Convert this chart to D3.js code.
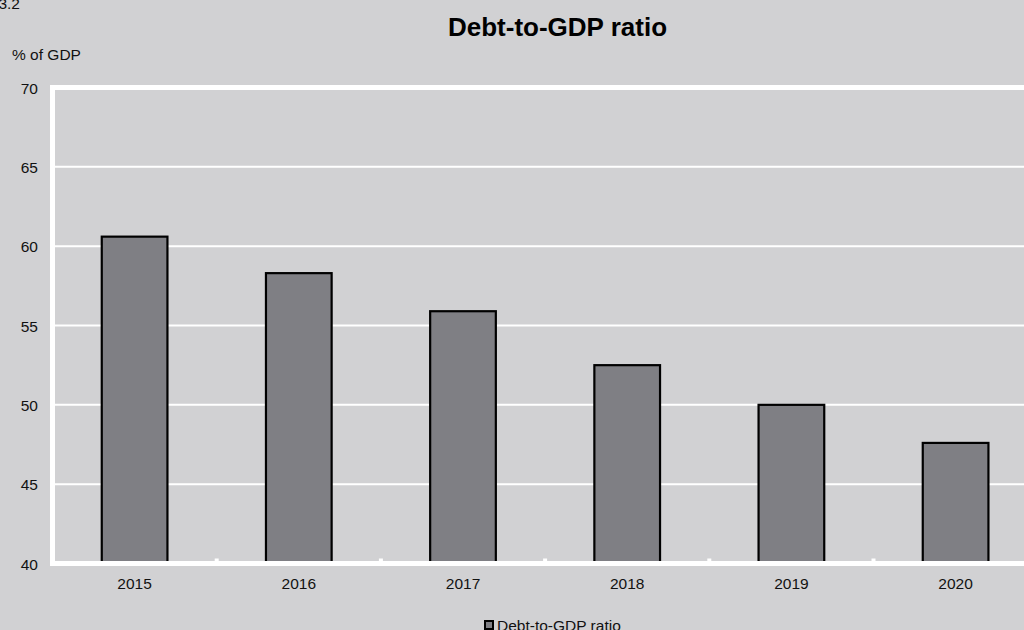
<!DOCTYPE html>
<html>
<head>
<meta charset="utf-8">
<script src="https://cdn.jsdelivr.net/npm/d3@7"></script>
<style>
  html, body { margin: 0; padding: 0; background: #d1d1d3; overflow: hidden; }
  svg { display: block; font-family: "Liberation Sans", Arial, sans-serif; }
</style>
</head>
<body>
<svg id="chart" width="1024" height="630"></svg>
<script>
// Debt-to-GDP ratio, % of GDP
const years = ["2015", "2016", "2017", "2018", "2019", "2020"];
const debtRatio = [60.6, 58.3, 55.9, 52.5, 50.0, 47.6];
const yTicks = [40, 45, 50, 55, 60, 65, 70];
const seriesName = "Debt-to-GDP ratio";

const svg = d3.select("#chart");
const bg = "#d1d1d3";
const barFill = "#7f7f84";

svg.append("rect").attr("width", 1024).attr("height", 630).attr("fill", bg);

// plot frame (right edge runs past the page)
const plotLeft = 52.5, plotTop = 87.5, plotBottom = 563.5;
const step = 164.2;
const plotRight = plotLeft + step * years.length;

const x = d3.scaleBand()
  .domain(years)
  .range([plotLeft, plotRight])
  .paddingInner(0.6)
  .paddingOuter(0.3);

const y = d3.scaleLinear().domain([40, 70]).range([plotBottom, plotTop]);

// horizontal gridlines
svg.append("g")
  .selectAll("line")
  .data(yTicks.filter(t => t > 40 && t < 70))
  .join("line")
  .attr("x1", plotLeft).attr("x2", plotRight)
  .attr("y1", d => y(d)).attr("y2", d => y(d))
  .attr("stroke", "#ffffff").attr("stroke-width", 2);

// bars
svg.append("g")
  .selectAll("rect")
  .data(years.map((yr, i) => ({ yr, v: debtRatio[i] })))
  .join("rect")
  .attr("x", d => x(d.yr))
  .attr("y", d => y(d.v))
  .attr("width", x.bandwidth())
  .attr("height", d => y(40) - y(d.v))
  .attr("fill", barFill)
  .attr("stroke", "#000")
  .attr("stroke-width", 2.2);

// plot border
svg.append("rect")
  .attr("x", plotLeft).attr("y", plotTop)
  .attr("width", plotRight - plotLeft).attr("height", plotBottom - plotTop)
  .attr("fill", "none").attr("stroke", "#ffffff").attr("stroke-width", 5);

// category boundary ticks on the bottom axis
svg.append("g")
  .selectAll("rect")
  .data(d3.range(1, years.length))
  .join("rect")
  .attr("x", i => plotLeft + i * x.step() - 2)
  .attr("y", plotBottom - 5)
  .attr("width", 4).attr("height", 4)
  .attr("fill", "#ffffff");

// y axis labels
const yAxis = d3.axisLeft(y).tickValues(yTicks).tickSize(0).tickPadding(0);
const gy = svg.append("g").attr("transform", "translate(38,0)").call(yAxis);
gy.select(".domain").remove();
gy.selectAll("text")
  .attr("font-size", "15.5px")
  .attr("font-family", "'Liberation Sans', Arial, sans-serif")
  .attr("fill", "#111")
  .attr("dy", "0.36em");

// x axis labels
const xLabels = d3.scaleBand().domain(years).range([plotLeft, plotRight]);
const xAxis = d3.axisBottom(xLabels).tickSize(0).tickPadding(0);
const gx = svg.append("g").attr("transform", `translate(0,${plotBottom + 14})`).call(xAxis);
gx.select(".domain").remove();
gx.selectAll("text")
  .attr("font-size", "15.5px")
  .attr("font-family", "'Liberation Sans', Arial, sans-serif")
  .attr("fill", "#111")
  .attr("dy", "0.71em");

// title and unit label
svg.append("text")
  .attr("x", 557.5).attr("y", 36)
  .attr("text-anchor", "middle")
  .attr("font-size", "26px").attr("font-weight", "bold")
  .attr("fill", "#000")
  .text(seriesName);

svg.append("text")
  .attr("x", 12).attr("y", 60)
  .attr("font-size", "15.5px")
  .attr("fill", "#111")
  .text("% of GDP");

svg.append("text")
  .attr("x", 20).attr("y", 9)
  .attr("text-anchor", "end")
  .attr("font-size", "15.5px")
  .attr("fill", "#111")
  .text("3.2");

// legend
const lg = svg.append("g");
lg.append("rect")
  .attr("x", 485).attr("y", 621)
  .attr("width", 8).attr("height", 8)
  .attr("fill", barFill).attr("stroke", "#000").attr("stroke-width", 2);
lg.append("text")
  .attr("x", 497).attr("y", 631)
  .attr("font-size", "15.5px")
  .attr("fill", "#111")
  .text(seriesName);
</script>
</body>
</html>
